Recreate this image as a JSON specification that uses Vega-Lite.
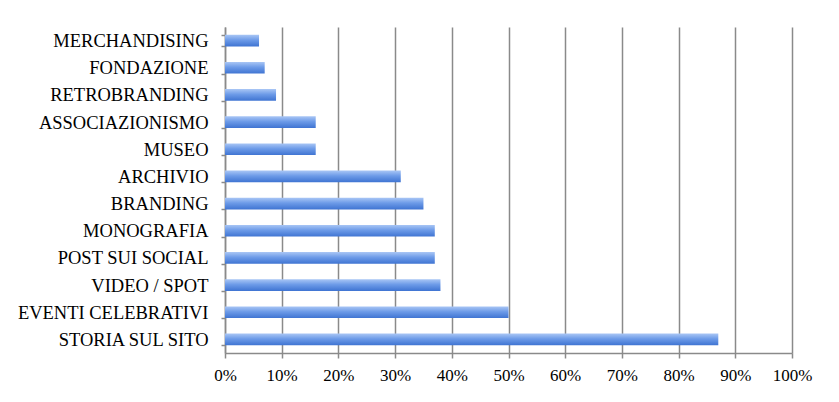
{
  "$schema": "https://vega.github.io/schema/vega-lite/v6.json",
  "width": 567,
  "height": 326,
  "autosize": "none",
  "padding": {"left": 225, "top": 27, "right": 47, "bottom": 49},
  "background": "white",
  "data": {
    "values": [
      {"categoria": "MERCHANDISING", "valore": 6},
      {"categoria": "FONDAZIONE", "valore": 7},
      {"categoria": "RETROBRANDING", "valore": 9},
      {"categoria": "ASSOCIAZIONISMO", "valore": 16},
      {"categoria": "MUSEO", "valore": 16},
      {"categoria": "ARCHIVIO", "valore": 31},
      {"categoria": "BRANDING", "valore": 35},
      {"categoria": "MONOGRAFIA", "valore": 37},
      {"categoria": "POST SUI SOCIAL", "valore": 37},
      {"categoria": "VIDEO / SPOT", "valore": 38},
      {"categoria": "EVENTI CELEBRATIVI", "valore": 50},
      {"categoria": "STORIA SUL SITO", "valore": 87}
    ]
  },
  "mark": {
    "type": "bar",
    "color": {
      "gradient": "linear",
      "x1": 0, "y1": 0, "x2": 0, "y2": 1,
      "stops": [
        {"offset": 0, "color": "#a9c6f5"},
        {"offset": 0.45, "color": "#6d9be8"},
        {"offset": 1, "color": "#3f74d2"}
      ]
    }
  },
  "encoding": {
    "y": {
      "field": "categoria",
      "type": "nominal",
      "sort": null,
      "title": null,
      "scale": {"paddingInner": 0.57, "paddingOuter": 0.285},
      "axis": {
        "labelFont": "Liberation Serif",
        "labelFontSize": 18.5,
        "labelColor": "#000000",
        "labelPadding": 13,
        "labelLimit": 400,
        "tickSize": 4,
        "tickColor": "#8a8a8a",
        "domainColor": "#8a8a8a",
        "domainWidth": 1.5,
        "tickWidth": 1.5,
        "tickBand": "extent",
        "grid": false
      }
    },
    "x": {
      "field": "valore",
      "type": "quantitative",
      "title": null,
      "scale": {"domain": [0, 100], "nice": false},
      "axis": {
        "values": [0, 10, 20, 30, 40, 50, 60, 70, 80, 90, 100],
        "labelExpr": "datum.value + '%'",
        "labelFont": "Liberation Serif",
        "labelFontSize": 17,
        "labelColor": "#000000",
        "labelPadding": 9,
        "tickSize": 5,
        "tickColor": "#8a8a8a",
        "tickWidth": 1.5,
        "domainColor": "#8a8a8a",
        "domainWidth": 1.5,
        "grid": true,
        "gridColor": "#8a8a8a",
        "gridWidth": 1.5,
        "labelFlush": false
      }
    }
  },
  "config": {
    "view": {"stroke": null}
  }
}
